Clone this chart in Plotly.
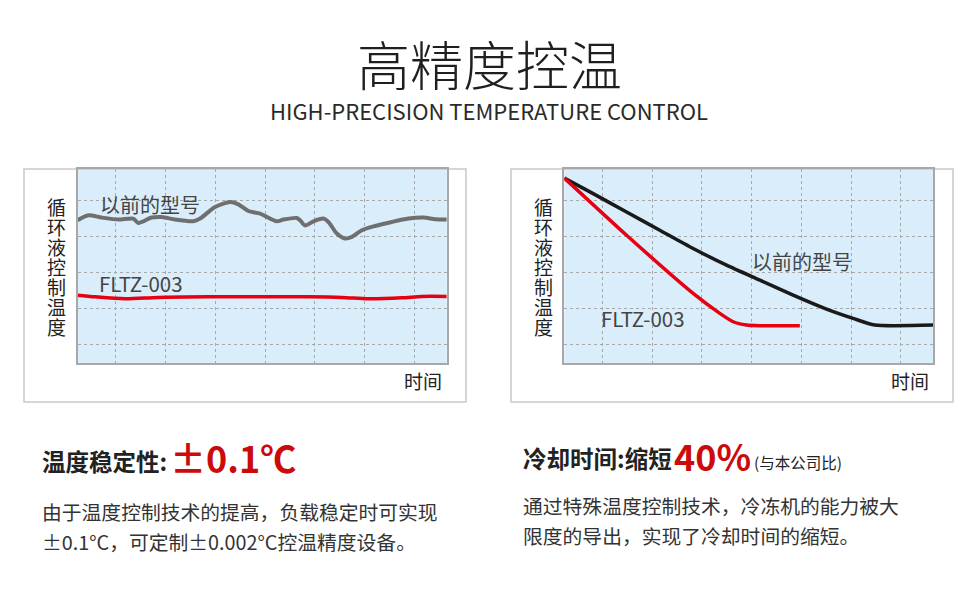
import plotly.graph_objects as go

W, H = 980, 612

# ---- data (grid units: one unit per dotted grid cell) ----
old_x = [-0.77, -0.557, -0.288, 0.046, 0.348, 0.449, 0.718, 0.92, 1.187, 1.555, 1.69,
         1.992, 2.294, 2.461, 2.662, 2.897, 3.233, 3.366, 3.636, 3.702, 3.803, 3.97,
         4.171, 4.272, 4.441, 4.608, 4.743, 4.944, 5.211, 5.547, 5.881, 6.183, 6.419, 6.654]
old_y = [4.453, 4.592, 4.528, 4.472, 4.5, 4.378, 4.528, 4.544, 4.472, 4.425, 4.5,
         4.822, 4.961, 4.897, 4.711, 4.639, 4.425, 4.472, 4.517, 4.453, 4.306, 4.425,
         4.5, 4.406, 4.083, 3.944, 3.989, 4.175, 4.294, 4.406, 4.5, 4.528, 4.481, 4.472]
new_x = [-0.77, -0.423, 0.181, 0.851, 1.857, 3.869, 4.541, 5.076, 5.748, 6.151, 6.654]
new_y = [2.369, 2.322, 2.267, 2.306, 2.322, 2.322, 2.306, 2.267, 2.294, 2.333, 2.333]

cool_old_x = [-0.77, -0.189, 0.483, 1.153, 1.823, 2.495, 3.165, 3.835, 4.507, 5.042, 5.479, 6.652]
cool_old_y = [5.628, 5.194, 4.683, 4.175, 3.667, 3.203, 2.786, 2.369, 1.981, 1.722, 1.536, 1.536]
cool_new_x = [-0.77, 0.483, 1.823, 2.36, 2.628, 2.897, 3.165, 3.97]
cool_new_y = [5.628, 4.036, 2.417, 1.861, 1.628, 1.536, 1.517, 1.517]

ylabel = "循环液控制温度"
xlabel = "时间"
old_name = "以前的型号"
new_name = "FLTZ-003"

FONT = "Noto Sans CJK SC"
RED_LINE = "#e60012"
RED_TEXT = "#cc0a0a"


def px(x):
    return x / W


def py(y):
    return 1 - y / H


fig = go.Figure()
fig.add_trace(go.Scatter(x=old_x, y=old_y, mode="lines", xaxis="x", yaxis="y",
                         line=dict(color="#6f6f6f", width=4, shape="spline", smoothing=0.7)))
fig.add_trace(go.Scatter(x=new_x, y=new_y, mode="lines", xaxis="x", yaxis="y",
                         line=dict(color=RED_LINE, width=3.5, shape="spline", smoothing=0.8)))
fig.add_trace(go.Scatter(x=cool_old_x, y=cool_old_y, mode="lines", xaxis="x2", yaxis="y2",
                         line=dict(color="#1a1a1a", width=3.5, shape="spline", smoothing=0.6)))
fig.add_trace(go.Scatter(x=cool_new_x, y=cool_new_y, mode="lines", xaxis="x2", yaxis="y2",
                         line=dict(color=RED_LINE, width=3.5, shape="spline", smoothing=0.5)))

ax = dict(range=[-0.77, 6.65], tick0=0, dtick=1, showticklabels=False, ticks="",
          showgrid=True, gridcolor="#a8a8a8", griddash="dot", gridwidth=1,
          zeroline=False, showline=True, mirror=True, linecolor="#a8a8a8", linewidth=1.5,
          fixedrange=True)
ay = dict(ax, range=[0.48, 5.88])

fig.update_layout(
    width=W, height=H, margin=dict(l=0, r=0, t=0, b=0),
    paper_bgcolor="white", plot_bgcolor="#d9eefa", showlegend=False,
    xaxis=dict(ax, domain=[px(77.7), px(446.7)]),
    yaxis=dict(ay, domain=[py(363), py(169)]),
    xaxis2=dict(ax, domain=[px(564.3), px(933)], anchor="y2"),
    yaxis2=dict(ay, domain=[py(363), py(169)], anchor="x2"),
)

# outer frames
for x0, x1 in [(24, 466), (511, 953)]:
    fig.add_shape(type="rect", xref="paper", yref="paper", x0=px(x0), x1=px(x1),
                  y0=py(402), y1=py(169), line=dict(color="#c9c9c9", width=1.5), layer="below")


def note(x, y, text, size, color="#333333", xanchor="center", yanchor="middle", **kw):
    fig.add_annotation(x=px(x), y=py(y), xref="paper", yref="paper", text=text,
                       showarrow=False, xanchor=xanchor, yanchor=yanchor, borderpad=0,
                       font=dict(family=FONT, size=size, color=color, **kw))


# titles
note(489, 63, "高精度控温", 53, color="#1f1f1f", weight=300)
note(489, 110, "HIGH-PRECISION TEMPERATURE CONTROL", 22, color="#2a2a2a")

# chart labels, vertical axis title stacked one character per row (tight, as in the original)
for cx in (56.7, 543.3):
    for i, ch in enumerate(ylabel):
        note(cx, 206.7 + 20 * i, ch, 19, color="#222222")
note(422.5, 380.7, xlabel, 19, color="#222222")
note(909.5, 380.7, xlabel, 19, color="#222222")
note(99, 205, old_name, 20, color="#444444", xanchor="left")
note(97.5, 283.3, new_name, 20.5, color="#444444", xanchor="left")
note(750.5, 261.7, old_name, 20, color="#444444", xanchor="left")
note(600, 318.3, new_name, 20.5, color="#444444", xanchor="left")

# bottom texts
note(41, 461, "<b>温度稳定性:</b>", 23.5, color="#222222", xanchor="left")
note(169, 457, "<b>±0.1℃</b>", 36, color=RED_TEXT, xanchor="left")
note(41, 511, "由于温度控制技术的提高，负载稳定时可实现", 19.8, xanchor="left")
note(41, 541, "±0.1°C，可定制±0.002°C控温精度设备。", 19.8, xanchor="left")

note(522, 458, "<b>冷却时间:缩短</b>", 23.5, color="#222222", xanchor="left")
note(673, 455, "<b>40%</b>", 36, color=RED_TEXT, xanchor="left")
note(753, 462, "(与本公司比)", 15.5, color="#222222", xanchor="left")
note(522, 505.5, "通过特殊温度控制技术，冷冻机的能力被大", 19.8, xanchor="left")
note(522, 535.5, "限度的导出，实现了冷却时间的缩短。", 19.8, xanchor="left")

# page body has a default 8px margin; drop it so the figure fills the window
fig.write_html("out.html", config={"displayModeBar": False},
               post_script="document.body.style.margin='0';")
